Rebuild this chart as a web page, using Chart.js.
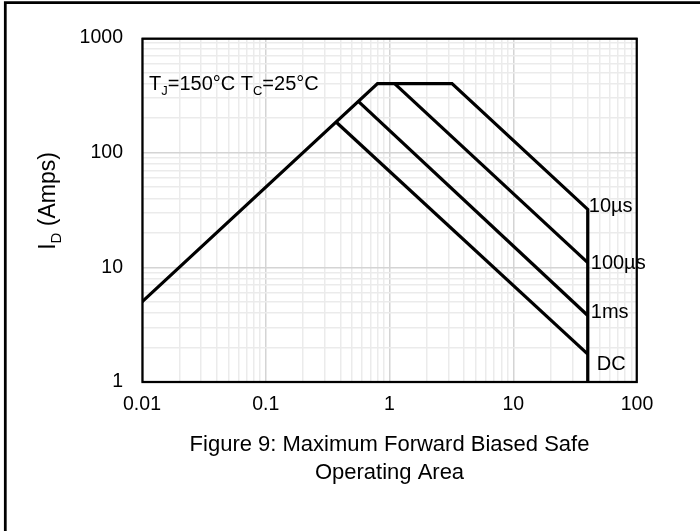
<!DOCTYPE html>
<html>
<head>
<meta charset="utf-8">
<title>Maximum Forward Biased Safe Operating Area</title>
<script src="https://cdn.jsdelivr.net/npm/chart.js@4.4.1/dist/chart.umd.min.js"></script>
<style>
  html, body { margin: 0; padding: 0; background: #fff; }
  #wrap { width: 700px; height: 531px; position: relative; }
</style>
</head>
<body>
<div id="wrap"><canvas id="soa" width="700" height="531"></canvas></div>
<script>
// ---- data: drain-source voltage (V) and drain current (A) along each boundary ----
const envelopeV = [0.01, 0.8, 3.2, 40, 40];   // RDS(on) limit, package limit, 10 µs pulse, BVDSS
const envelopeI = [5, 400, 400, 32, 1];
const us100V = [1.1, 40];
const us100I = [400, 11];
const ms1V = [0.56, 40];
const ms1I = [280, 3.8];
const dcV = [0.37, 40];
const dcI = [185, 1.75];

const seriesNames = ['10µs', '100µs', '1ms', 'DC'];

const xDecades = [0.01, 0.1, 1, 10, 100];
const xTickLabels = ['0.01', '0.1', '1', '10', '100'];
const yDecades = [1, 10, 100, 1000];
const yTickLabels = ['1', '10', '100', '1000'];

// ---- styling ----
const FONT = "'Liberation Sans', Arial, Helvetica, sans-serif";
const TICK_SIZE = 19.5;
const LABEL_SIZE = 20;
const TITLE_SIZE = 22;
const GRID_MAJOR = '#d4d4d4';
const GRID_MINOR = '#ebebeb';
// which point each series name sits next to, and its offset (text left, text middle)
const labelAnchor = [3, 1, 1, 1];
const labelOffset = [[1, -5], [3, -1], [3, -5], [9, 9]];

function points(xs, ys) {
  return xs.map((x, i) => ({ x: x, y: ys[i] }));
}

// decade ticks plus 2..9 minor ticks for the log grid
function logTicks(decades) {
  const out = [];
  decades.forEach((d, i) => {
    out.push({ value: d, major: true });
    if (i < decades.length - 1) {
      for (let m = 2; m <= 9; m++) {
        out.push({ value: +(d * m).toPrecision(6), major: false });
      }
    }
  });
  return out;
}

function lineStyle(name, data) {
  return {
    label: name,
    data: data,
    showLine: true,
    borderColor: '#000',
    backgroundColor: '#000',
    borderWidth: 3.25,
    pointRadius: 0,
    pointHoverRadius: 0,
    fill: false,
    tension: 0,
    borderJoinStyle: 'miter',
    borderCapStyle: 'butt'
  };
}

// draws text with a lowered subscript part; parts = [[text, isSub], ...]
function partsWidth(ctx, parts, size, subSize) {
  let w = 0;
  parts.forEach(p => {
    ctx.font = (p[1] ? subSize : size) + 'px ' + FONT;
    w += ctx.measureText(p[0]).width;
  });
  return w;
}
function drawParts(ctx, parts, x, baseline, size, subSize, subDrop) {
  let cx = x;
  parts.forEach(p => {
    ctx.font = (p[1] ? subSize : size) + 'px ' + FONT;
    ctx.fillText(p[0], cx, baseline + (p[1] ? subDrop : 0));
    cx += ctx.measureText(p[0]).width;
  });
}

const decorations = {
  id: 'decorations',
  beforeDatasetsDraw(chart) {
    const { ctx, chartArea: a } = chart;
    ctx.save();
    ctx.strokeStyle = '#000';
    ctx.lineWidth = 2.25;
    ctx.strokeRect(a.left + 0.5, a.top + 0.75, a.right - a.left - 0.75, a.bottom - a.top - 0.75);
    ctx.restore();
  },
  afterDraw(chart) {
    const { ctx } = chart;
    ctx.save();
    ctx.fillStyle = '#000';
    ctx.textAlign = 'left';
    ctx.textBaseline = 'alphabetic';

    // outer frame (left and top edges)
    ctx.strokeStyle = '#000';
    ctx.lineWidth = 2.75;
    ctx.lineJoin = 'miter';
    ctx.beginPath();
    ctx.moveTo(5.3, 531);
    ctx.lineTo(5.3, 2.6);
    ctx.lineTo(700, 2.6);
    ctx.stroke();

    // test condition note
    const note = [['T', false], ['J', true], ['=150°C T', false], ['C', true], ['=25°C', false]];
    drawParts(ctx, note, 149, 83 + 7.2, 20, 13, 5);

    // series names at the right end of each boundary
    chart.data.datasets.forEach((ds, i) => {
      const el = chart.getDatasetMeta(i).data[labelAnchor[i]];
      if (!el) return;
      ctx.font = LABEL_SIZE + 'px ' + FONT;
      ctx.fillText(seriesNames[i], el.x + labelOffset[i][0], el.y + labelOffset[i][1] + LABEL_SIZE * 0.36);
    });

    // rotated y-axis title with subscript
    const yTitle = [['I', false], ['D', true], [' (Amps)', false]];
    const w = partsWidth(ctx, yTitle, 23, 15);
    ctx.translate(47, 201);
    ctx.rotate(-Math.PI / 2);
    drawParts(ctx, yTitle, -w / 2, 23 * 0.36, 23, 15, 5.5);
    ctx.restore();
  }
};

new Chart(document.getElementById('soa'), {
  type: 'scatter',
  data: {
    datasets: [
      lineStyle(seriesNames[0], points(envelopeV, envelopeI)),
      lineStyle(seriesNames[1], points(us100V, us100I)),
      lineStyle(seriesNames[2], points(ms1V, ms1I)),
      lineStyle(seriesNames[3], points(dcV, dcI))
    ]
  },
  options: {
    responsive: false,
    animation: false,
    events: [],
    layout: { padding: { left: 0, right: 63, top: 38, bottom: 0 } },
    plugins: {
      legend: { display: false },
      tooltip: { enabled: false },
      title: { display: false }
    },
    scales: {
      x: {
        type: 'logarithmic',
        position: 'bottom',
        min: 0.01,
        max: 100,
        afterBuildTicks: s => { s.ticks = logTicks(xDecades); },
        afterFit: s => { s.height = 149; },
        border: { display: false },
        grid: {
          drawTicks: false,
          color: c => (c.tick && c.tick.major ? GRID_MAJOR : GRID_MINOR),
          lineWidth: 1.5
        },
        ticks: {
          autoSkip: false,
          maxRotation: 0,
          padding: 11,
          color: '#000',
          font: { family: FONT, size: TICK_SIZE },
          callback: v => {
            const k = xDecades.indexOf(v);
            return k >= 0 ? xTickLabels[k] : '';
          }
        },
        title: {
          display: true,
          text: ['Figure 9: Maximum Forward Biased Safe', 'Operating Area'],
          color: '#000',
          font: { family: FONT, size: TITLE_SIZE, lineHeight: '28px' },
          padding: { top: 0, bottom: 44 }
        }
      },
      y: {
        type: 'logarithmic',
        min: 1,
        max: 1000,
        afterBuildTicks: s => { s.ticks = logTicks(yDecades); },
        afterFit: s => { s.width = 142; },
        border: { display: false },
        grid: {
          drawTicks: false,
          color: c => (c.tick && c.tick.major ? GRID_MAJOR : GRID_MINOR),
          lineWidth: 1.5
        },
        ticks: {
          autoSkip: false,
          padding: 19,
          color: '#000',
          font: { family: FONT, size: TICK_SIZE },
          callback: v => {
            const k = yDecades.indexOf(v);
            return k >= 0 ? yTickLabels[k] : '';
          }
        }
      }
    }
  },
  plugins: [decorations]
});
</script>
</body>
</html>
